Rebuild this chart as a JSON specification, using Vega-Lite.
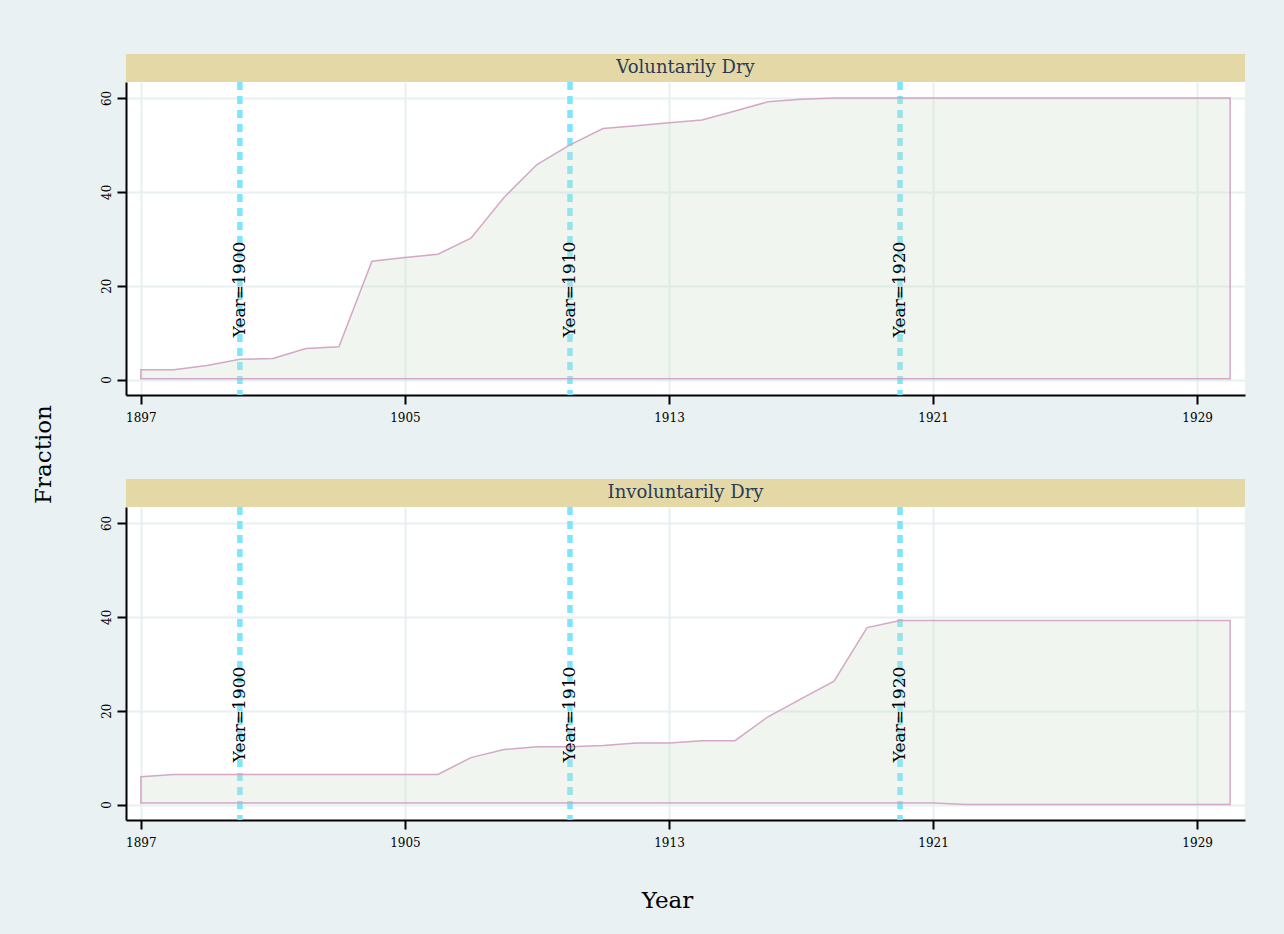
{
  "$schema": "https://vega.github.io/schema/vega-lite/v6.json",
  "background": "#E9F1F3",
  "padding": {"left": 32, "top": 54, "right": 39, "bottom": 30},
  "config": {
    "font": "DejaVu Serif",
    "view": {"stroke": null, "fill": "white"},
    "axis": {
      "domainColor": "black", "domainWidth": 2,
      "tickColor": "black", "tickWidth": 2, "tickSize": 9,
      "gridColor": "#E8F0F2", "gridWidth": 2,
      "labelFont": "DejaVu Serif", "labelFontSize": 12, "labelColor": "black",
      "titleFont": "DejaVu Serif", "titleFontSize": 23, "titleFontWeight": "normal", "titleColor": "black"
    }
  },
  "datasets": {
    "dry": [
      {"panel": "Voluntarily Dry", "year": 1897, "value": 2.1, "low": 0.15},
      {"panel": "Voluntarily Dry", "year": 1898, "value": 2.1, "low": 0.15},
      {"panel": "Voluntarily Dry", "year": 1899, "value": 3.0, "low": 0.15},
      {"panel": "Voluntarily Dry", "year": 1900, "value": 4.3, "low": 0.15},
      {"panel": "Voluntarily Dry", "year": 1901, "value": 4.5, "low": 0.15},
      {"panel": "Voluntarily Dry", "year": 1902, "value": 6.6, "low": 0.15},
      {"panel": "Voluntarily Dry", "year": 1903, "value": 7.0, "low": 0.15},
      {"panel": "Voluntarily Dry", "year": 1904, "value": 25.2, "low": 0.15},
      {"panel": "Voluntarily Dry", "year": 1905, "value": 26.0, "low": 0.15},
      {"panel": "Voluntarily Dry", "year": 1906, "value": 26.7, "low": 0.15},
      {"panel": "Voluntarily Dry", "year": 1907, "value": 30.1, "low": 0.15},
      {"panel": "Voluntarily Dry", "year": 1908, "value": 38.8, "low": 0.15},
      {"panel": "Voluntarily Dry", "year": 1909, "value": 45.8, "low": 0.15},
      {"panel": "Voluntarily Dry", "year": 1910, "value": 50.0, "low": 0.15},
      {"panel": "Voluntarily Dry", "year": 1911, "value": 53.5, "low": 0.15},
      {"panel": "Voluntarily Dry", "year": 1912, "value": 54.1, "low": 0.15},
      {"panel": "Voluntarily Dry", "year": 1913, "value": 54.7, "low": 0.15},
      {"panel": "Voluntarily Dry", "year": 1914, "value": 55.3, "low": 0.15},
      {"panel": "Voluntarily Dry", "year": 1915, "value": 57.2, "low": 0.15},
      {"panel": "Voluntarily Dry", "year": 1916, "value": 59.2, "low": 0.15},
      {"panel": "Voluntarily Dry", "year": 1917, "value": 59.7, "low": 0.15},
      {"panel": "Voluntarily Dry", "year": 1918, "value": 60.0, "low": 0.15},
      {"panel": "Voluntarily Dry", "year": 1919, "value": 60.0, "low": 0.15},
      {"panel": "Voluntarily Dry", "year": 1920, "value": 60.0, "low": 0.15},
      {"panel": "Voluntarily Dry", "year": 1921, "value": 60.0, "low": 0.15},
      {"panel": "Voluntarily Dry", "year": 1922, "value": 60.0, "low": 0.15},
      {"panel": "Voluntarily Dry", "year": 1923, "value": 60.0, "low": 0.15},
      {"panel": "Voluntarily Dry", "year": 1924, "value": 60.0, "low": 0.15},
      {"panel": "Voluntarily Dry", "year": 1925, "value": 60.0, "low": 0.15},
      {"panel": "Voluntarily Dry", "year": 1926, "value": 60.0, "low": 0.15},
      {"panel": "Voluntarily Dry", "year": 1927, "value": 60.0, "low": 0.15},
      {"panel": "Voluntarily Dry", "year": 1928, "value": 60.0, "low": 0.15},
      {"panel": "Voluntarily Dry", "year": 1929, "value": 60.0, "low": 0.15},
      {"panel": "Voluntarily Dry", "year": 1930, "value": 60.0, "low": 0.15},
      {"panel": "Involuntarily Dry", "year": 1897, "value": 5.9, "low": 0.3},
      {"panel": "Involuntarily Dry", "year": 1898, "value": 6.4, "low": 0.3},
      {"panel": "Involuntarily Dry", "year": 1899, "value": 6.4, "low": 0.3},
      {"panel": "Involuntarily Dry", "year": 1900, "value": 6.4, "low": 0.3},
      {"panel": "Involuntarily Dry", "year": 1901, "value": 6.4, "low": 0.3},
      {"panel": "Involuntarily Dry", "year": 1902, "value": 6.4, "low": 0.3},
      {"panel": "Involuntarily Dry", "year": 1903, "value": 6.4, "low": 0.3},
      {"panel": "Involuntarily Dry", "year": 1904, "value": 6.4, "low": 0.3},
      {"panel": "Involuntarily Dry", "year": 1905, "value": 6.4, "low": 0.3},
      {"panel": "Involuntarily Dry", "year": 1906, "value": 6.4, "low": 0.3},
      {"panel": "Involuntarily Dry", "year": 1907, "value": 10.0, "low": 0.3},
      {"panel": "Involuntarily Dry", "year": 1908, "value": 11.7, "low": 0.3},
      {"panel": "Involuntarily Dry", "year": 1909, "value": 12.3, "low": 0.3},
      {"panel": "Involuntarily Dry", "year": 1910, "value": 12.3, "low": 0.3},
      {"panel": "Involuntarily Dry", "year": 1911, "value": 12.6, "low": 0.3},
      {"panel": "Involuntarily Dry", "year": 1912, "value": 13.1, "low": 0.3},
      {"panel": "Involuntarily Dry", "year": 1913, "value": 13.1, "low": 0.3},
      {"panel": "Involuntarily Dry", "year": 1914, "value": 13.6, "low": 0.3},
      {"panel": "Involuntarily Dry", "year": 1915, "value": 13.6, "low": 0.3},
      {"panel": "Involuntarily Dry", "year": 1916, "value": 18.7, "low": 0.3},
      {"panel": "Involuntarily Dry", "year": 1917, "value": 22.5, "low": 0.3},
      {"panel": "Involuntarily Dry", "year": 1918, "value": 26.3, "low": 0.3},
      {"panel": "Involuntarily Dry", "year": 1919, "value": 37.7, "low": 0.3},
      {"panel": "Involuntarily Dry", "year": 1920, "value": 39.2, "low": 0.3},
      {"panel": "Involuntarily Dry", "year": 1921, "value": 39.2, "low": 0.3},
      {"panel": "Involuntarily Dry", "year": 1922, "value": 39.2, "low": 0.0},
      {"panel": "Involuntarily Dry", "year": 1923, "value": 39.2, "low": 0.0},
      {"panel": "Involuntarily Dry", "year": 1924, "value": 39.2, "low": 0.0},
      {"panel": "Involuntarily Dry", "year": 1925, "value": 39.2, "low": 0.0},
      {"panel": "Involuntarily Dry", "year": 1926, "value": 39.2, "low": 0.0},
      {"panel": "Involuntarily Dry", "year": 1927, "value": 39.2, "low": 0.0},
      {"panel": "Involuntarily Dry", "year": 1928, "value": 39.2, "low": 0.0},
      {"panel": "Involuntarily Dry", "year": 1929, "value": 39.2, "low": 0.0},
      {"panel": "Involuntarily Dry", "year": 1930, "value": 39.2, "low": 0.0}
    ],
    "lines": [
      {"year": 1900, "label": "Year=1900"},
      {"year": 1910, "label": "Year=1910"},
      {"year": 1920, "label": "Year=1920"}
    ]
  },
  "bounds": "flush",
  "spacing": 0,
  "vconcat": [
    {
      "width": 1119, "height": 28,
      "view": {"fill": "#E4D9A6", "stroke": null},
      "data": {"values": [{"panel": "Voluntarily Dry"}]},
      "mark": {"type": "text", "fontSize": 18, "color": "#2B3A57", "baseline": "middle", "align": "center", "font": "DejaVu Serif"},
      "encoding": {"text": {"field": "panel"}}
    },
    {
      "width": 1119, "height": 313,
      "encoding": {
        "x": {"field": "year", "type": "quantitative",
              "scale": {"domain": [1896.55, 1930.45], "nice": false, "zero": false},
              "axis": {"values": [1897, 1905, 1913, 1921, 1929], "format": "d", "title": null, "labelPadding": 8, "grid": true}}
      },
      "layer": [
        {
          "data": {"name": "lines"},
          "mark": {"type": "rule", "color": "#7DE6FA", "strokeWidth": 5.5, "strokeDash": [8, 6]},
          "encoding": {}
        },
        {
          "data": {"name": "dry"},
          "transform": [{"filter": "datum.panel == 'Voluntarily Dry'"}],
          "mark": {"type": "area", "fill": "#CCDDCC", "fillOpacity": 0.3, "stroke": "#CF9FC0", "strokeWidth": 1.5, "strokeOpacity": 0.9},
          "encoding": {
            "y": {"field": "value", "type": "quantitative",
                  "scale": {"domain": [-3.3, 63.4], "nice": false, "zero": false},
                  "axis": {"values": [0, 20, 40, 60], "labelAngle": 270, "labelAlign": "center", "labelBaseline": "bottom", "labelPadding": 4,
                           "title": "Fraction", "titleX": -76, "titleY": 372, "titleAngle": 270, "titleAlign": "center", "titleBaseline": "alphabetic"}},
            "y2": {"field": "low"}
          }
        },
        {
          "data": {"name": "lines"},
          "mark": {"type": "text", "angle": 270, "align": "left", "baseline": "middle", "fontSize": 17, "color": "black", "font": "DejaVu Serif"},
          "encoding": {
            "y": {"datum": 9, "type": "quantitative", "title": null},
            "text": {"field": "label"}
          }
        }
      ]
    },
    {
      "width": 1119, "height": 84,
      "view": {"fill": "transparent", "stroke": null},
      "data": {"values": [{}]},
      "mark": {"type": "rect", "opacity": 0},
      "encoding": {}
    },
    {
      "width": 1119, "height": 28,
      "view": {"fill": "#E4D9A6", "stroke": null},
      "data": {"values": [{"panel": "Involuntarily Dry"}]},
      "mark": {"type": "text", "fontSize": 18, "color": "#2B3A57", "baseline": "middle", "align": "center", "font": "DejaVu Serif"},
      "encoding": {"text": {"field": "panel"}}
    },
    {
      "width": 1119, "height": 313,
      "encoding": {
        "x": {"field": "year", "type": "quantitative",
              "scale": {"domain": [1896.55, 1930.45], "nice": false, "zero": false},
              "axis": {"values": [1897, 1905, 1913, 1921, 1929], "format": "d", "title": "Year", "labelPadding": 8, "grid": true,
                       "titleX": 541, "titleY": 87, "titleAlign": "center", "titleBaseline": "alphabetic", "titleAngle": 0}}
      },
      "layer": [
        {
          "data": {"name": "lines"},
          "mark": {"type": "rule", "color": "#7DE6FA", "strokeWidth": 5.5, "strokeDash": [8, 6]},
          "encoding": {}
        },
        {
          "data": {"name": "dry"},
          "transform": [{"filter": "datum.panel == 'Involuntarily Dry'"}],
          "mark": {"type": "area", "fill": "#CCDDCC", "fillOpacity": 0.3, "stroke": "#CF9FC0", "strokeWidth": 1.5, "strokeOpacity": 0.9},
          "encoding": {
            "y": {"field": "value", "type": "quantitative",
                  "scale": {"domain": [-3.3, 63.4], "nice": false, "zero": false},
                  "axis": {"values": [0, 20, 40, 60], "labelAngle": 270, "labelAlign": "center", "labelBaseline": "bottom", "labelPadding": 4, "title": null}},
            "y2": {"field": "low"}
          }
        },
        {
          "data": {"name": "lines"},
          "mark": {"type": "text", "angle": 270, "align": "left", "baseline": "middle", "fontSize": 17, "color": "black", "font": "DejaVu Serif"},
          "encoding": {
            "y": {"datum": 9, "type": "quantitative", "title": null},
            "text": {"field": "label"}
          }
        }
      ]
    }
  ]
}
